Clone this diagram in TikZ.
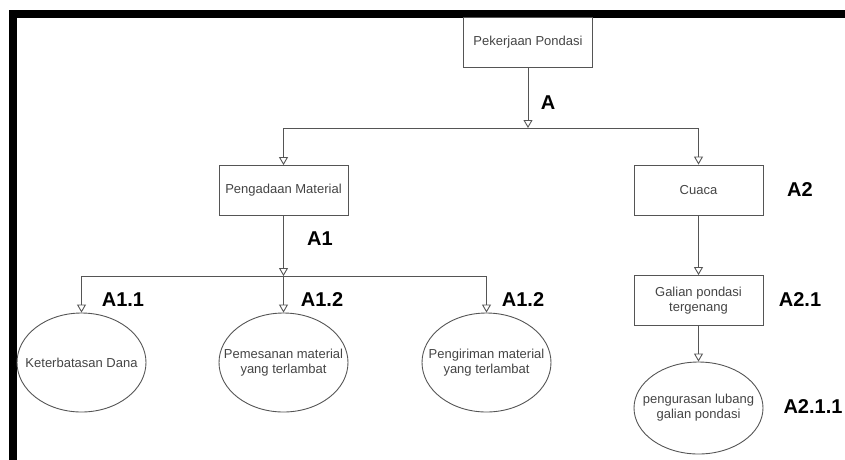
\documentclass[tikz,border=0pt]{standalone}
\usepackage{fontspec}
\setmainfont{Liberation Sans}
\usetikzlibrary{shapes.geometric,arrows.meta}
\definecolor{linegray}{HTML}{555555}
\definecolor{textgray}{HTML}{444444}

\begin{document}
\begin{tikzpicture}[x=1pt,y=-1pt]

\tikzstyle{box}=[rectangle, draw=linegray, line width=0.9pt, minimum width=129pt, minimum height=50pt, align=center, text=textgray, font=\fontsize{13}{15}\selectfont]
\tikzstyle{oval}=[ellipse, draw=linegray, line width=0.9pt, inner xsep=-25pt, inner ysep=0pt, minimum width=129pt, minimum height=99pt, align=center, text=textgray, font=\fontsize{13}{15}\selectfont]
\tikzstyle{line}=[draw=linegray, line width=0.9pt]
\tikzstyle{arrow}=[line, -{Triangle[open, length=8pt, width=9pt]}]
\tikzstyle{code}=[font=\fontsize{20}{22}\selectfont\bfseries, text=black]

\useasboundingbox (0,0) rectangle (845,459);

% frame
\draw[line width=8pt, line join=miter] (13,470) -- (13,14) -- (850,14);

\node (top) [box] at (528,42)     {Pekerjaan Pondasi};
\node (pm)  [box] at (283.5,190.5) {Pengadaan Material};
\node (cu)  [box] at (698.5,190)   {Cuaca};
\node (gp)  [box] at (698.5,300.5) {Galian pondasi\\ tergenang};

\node (dana)  [oval] at (81.5,362.5)  {Keterbatasan Dana};
\node (pesan) [oval] at (283.5,362.5) {Pemesanan material\\ yang terlambat};
\node (kirim) [oval] at (486.5,362.5) {Pengiriman material\\ yang terlambat};
\node (kuras) [oval, minimum height=92pt] at (698.5,408) {pengurasan lubang\\ galian pondasi};

\coordinate (busA)  at (528,128);
\coordinate (busA1) at (283.5,276);

% level A
\draw [arrow] (top) -- (busA);
\draw [line] (busA -| pm) -- (busA -| cu);
\draw [arrow] (busA -| pm) -- (pm);
\draw [arrow] (busA -| cu) -- (cu);

% level A1
\draw [arrow] (pm) -- (busA1);
\draw [line] (busA1 -| dana) -- (busA1 -| kirim);
\draw [arrow] (busA1 -| dana) -- (dana);
\draw [arrow] (busA1) -- (pesan);
\draw [arrow] (busA1 -| kirim) -- (kirim);

% level A2
\draw [arrow] (cu) -- (gp);
\draw [arrow] (gp) -- (kuras);

\node (lA)    [code] at (548,103) {A};
\node (lA1)   [code] at (320,239) {A1};
\node (lA11)  [code] at (123,300) {A1.1};
\node (lA12)  [code] at (322,300) {A1.2};
\node (lA13)  [code] at (523,300) {A1.2};
\node (lA2)   [code] at (800,190) {A2};
\node (lA21)  [code] at (800,300) {A2.1};
\node (lA211) [code] at (813,407) {A2.1.1};

\end{tikzpicture}
\end{document}
